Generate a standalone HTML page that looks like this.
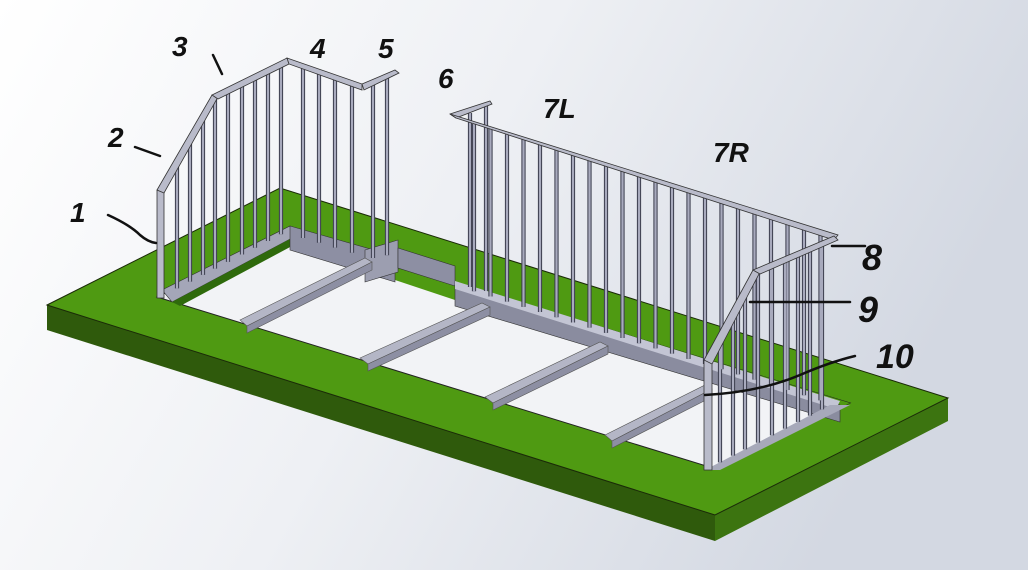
<!DOCTYPE html>
<html><head><meta charset="utf-8"><style>
html,body{margin:0;padding:0;width:1028px;height:570px;overflow:hidden}
svg{display:block}
text{font-family:"Liberation Sans",sans-serif;font-style:italic;fill:#111;font-weight:bold}
</style></head><body>
<svg id="s" width="1028" height="570" viewBox="0 0 1028 570" xmlns="http://www.w3.org/2000/svg">
<defs>
<linearGradient id="bg" x1="0" y1="0" x2="1" y2="0.3">
<stop offset="0" stop-color="#ffffff"/><stop offset="0.5" stop-color="#eef0f4"/><stop offset="1" stop-color="#d3d8e2"/>
</linearGradient>
</defs>
<rect width="1028" height="570" fill="url(#bg)"/>
<!-- slab -->
<polygon points="47,305 715,515 715,541 47,330" fill="#2f5a0c"/>
<polygon points="715,515 948,398 948,421 715,541" fill="#3c7410"/>
<polygon points="47,305 280,188 948,398 715,515" fill="#4f9a12" stroke="#1a2a08" stroke-width="1"/>
<!-- opening -->
<polygon points="157,297 290,232 850,403 716,469" fill="#f2f3f6" stroke="#222" stroke-width="1"/>
<!-- green behind long beam -->
<polygon points="395,262 455,282 850,403 836,410 455,300 395,280" fill="#4f9a12"/>
<!-- frames inside -->
<polygon points="162,290 290,226 292,238 172,302" fill="#a4a6b8" stroke="#333" stroke-width="0.6"/>
<polygon points="172,302 292,238 292,246 180,306" fill="#2f6a0c"/>
<polygon points="290,226 395,256 395,282 290,250" fill="#8d8fa3" stroke="#333" stroke-width="0.6"/>
<polygon points="365,250 398,240 398,272 365,282" fill="#9c9eb0" stroke="#333" stroke-width="0.6"/>
<polygon points="398,248 455,266 455,286 398,268" fill="#8d8fa3" stroke="#333" stroke-width="0.6"/>
<polygon points="455,285 840,405 840,422 455,306" fill="#8a8c9f" stroke="#333" stroke-width="0.6"/>
<polygon points="455,281 840,401 836,409 455,289" fill="#c3c5d4"/>
<polygon points="705,470 830,405 850,405 720,470" fill="#a7a9ba"/>
<!-- cross beams -->
<g stroke="#555" stroke-width="0.6">
<polygon points="240,320 365,258 372,262 247,326" fill="#b4b6c6"/>
<polygon points="247,326 372,262 372,270 247,333" fill="#8d8fa3"/>
<polygon points="360,358 482,303 490,307 368,364" fill="#b4b6c6"/>
<polygon points="368,364 490,307 490,315 368,371" fill="#8d8fa3"/>
<polygon points="485,397 600,342 608,346 493,403" fill="#b4b6c6"/>
<polygon points="493,403 608,346 608,354 493,410" fill="#8d8fa3"/>
<polygon points="605,435 705,385 712,389 612,441" fill="#b4b6c6"/>
<polygon points="612,441 712,389 712,397 612,448" fill="#8d8fa3"/>
</g>
<g id="posts" stroke="#3a3c4c" stroke-width="4.2" stroke-linecap="butt"></g>
<g id="posts2" stroke="#a8aabd" stroke-width="2.2" stroke-linecap="butt"></g>
<!-- rails -->
<g fill="#b9bbca" stroke="#333" stroke-width="0.8">
<polygon points="157,190 164,190 164,298 157,298"/>
<polygon points="157,190 212,95 218,97 164,193"/>
<polygon points="212,95 287,58 289,64 218,99"/>
<polygon points="287,58 362,84 362,90 289,64"/>
<polygon points="362,84 395,70 399,73 364,90"/>
<polygon points="450,114 490,101 492,104 456,118"/>
<polygon points="450,114 838,235 834,240 456,118"/>
<polygon points="704,360 712,360 712,470 704,470"/>
<polygon points="704,360 753,270 760,272 712,364"/>
<polygon points="753,270 834,236 838,240 760,274"/>
</g>
<!-- leaders -->
<g fill="none" stroke="#111" stroke-width="2.5" stroke-linecap="round">
<path d="M108,215 Q130,225 140,235 Q148,242 156,243"/>
<path d="M135,147 L160,156"/>
<path d="M213,55 L222,74"/>
<path d="M832,246 L865,246"/>
<path d="M750,302 L850,302"/>
<path d="M705,395 Q760,392 800,375 Q830,362 855,356"/>
</g>
<g font-size="28">
<text x="70" y="222">1</text>
<text x="108" y="147">2</text>
<text x="172" y="56">3</text>
<text x="310" y="58">4</text>
<text x="378" y="58">5</text>
<text x="438" y="88">6</text>
<text x="543" y="118">7L</text>
<text x="713" y="162">7R</text>
<text x="862" y="270" font-size="36">8</text>
<text x="858" y="322" font-size="36">9</text>
<text x="876" y="368" font-size="34">10</text>
</g>
</svg>
<script>
var h='';
function L(x1,y1,x2,y2){h+='<line x1="'+x1+'" y1="'+y1+'" x2="'+x2+'" y2="'+y2+'"/>';}
[177,190,203,215,228,242,255,268,281].forEach(function(x){
 var t=x<215?193-(x-160)*1.75:97-(x-215)*0.51;
 var b=292-(x-170)*0.52; L(x,t,x,b);});
[303,319,335,352].forEach(function(x){L(x,60+(x-287)*0.36,x,238+(x-303)*0.3);});
[373,387].forEach(function(x){L(x,86-(x-362)*0.43,x,258-(x-373)*0.2);});
L(470,113,470,287);L(486,104,486,291);
for(var i=0;i<22;i++){var x=474+i*16.5;L(x,117+(x-452)*0.313,x,290+(x-470)*0.315);}
[720,733,745,758,772,785,798,810,822].forEach(function(x){
 var t=x<756?362-(x-705)*1.8:272-(x-756)*0.43;
 L(x,t,x,465-(x-715)*0.52);});
document.getElementById('posts').innerHTML=h;
document.getElementById('posts2').innerHTML=h;
</script>
</body></html>
